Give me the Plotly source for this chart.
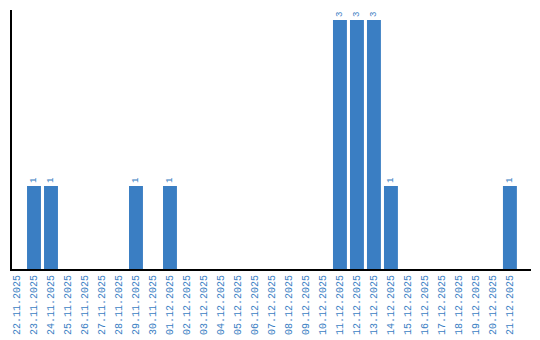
import plotly.graph_objects as go

dates = ["22.11.2025", "23.11.2025", "24.11.2025", "25.11.2025", "26.11.2025", "27.11.2025",
         "28.11.2025", "29.11.2025", "30.11.2025", "01.12.2025", "02.12.2025", "03.12.2025",
         "04.12.2025", "05.12.2025", "06.12.2025", "07.12.2025", "08.12.2025", "09.12.2025",
         "10.12.2025", "11.12.2025", "12.12.2025", "13.12.2025", "14.12.2025", "15.12.2025",
         "16.12.2025", "17.12.2025", "18.12.2025", "19.12.2025", "20.12.2025", "21.12.2025"]
counts = [0, 1, 1, 0, 0, 0, 0, 1, 0, 1, 0, 0, 0, 0, 0, 0, 0, 0, 0, 3, 3, 3, 1, 0, 0, 0, 0, 0, 0, 1]

blue = "#3a7ec3"
labels = [str(v) if v > 0 else "" for v in counts]

fig = go.Figure(go.Bar(
    x=list(range(len(dates))), y=counts,
    marker=dict(color=blue, line=dict(width=0)),
    text=labels, textposition="outside", textangle=-90,
    textfont=dict(family="Liberation Mono", size=9, color=blue),
    cliponaxis=False,
))

fig.update_layout(
    width=540, height=340,
    margin=dict(l=12, r=9, t=10, b=71, autoexpand=False),
    paper_bgcolor="white", plot_bgcolor="white",
    bargap=0.18, showlegend=False,
    xaxis=dict(
        range=[-0.294, 30.24], tickmode="array", tickvals=list(range(len(dates))), ticktext=dates,
        tickangle=-90, tickfont=dict(family="Liberation Mono", size=10, color=blue),
        showline=True, linecolor="black", linewidth=2, showgrid=False, zeroline=False,
        ticks="", ticklen=0, automargin=False,
    ),
    yaxis=dict(
        range=[0, 3.12], showticklabels=False, showline=True, linecolor="black", linewidth=2,
        showgrid=False, zeroline=False, ticks="", automargin=False,
    ),
)

fig.write_html("out.html")
